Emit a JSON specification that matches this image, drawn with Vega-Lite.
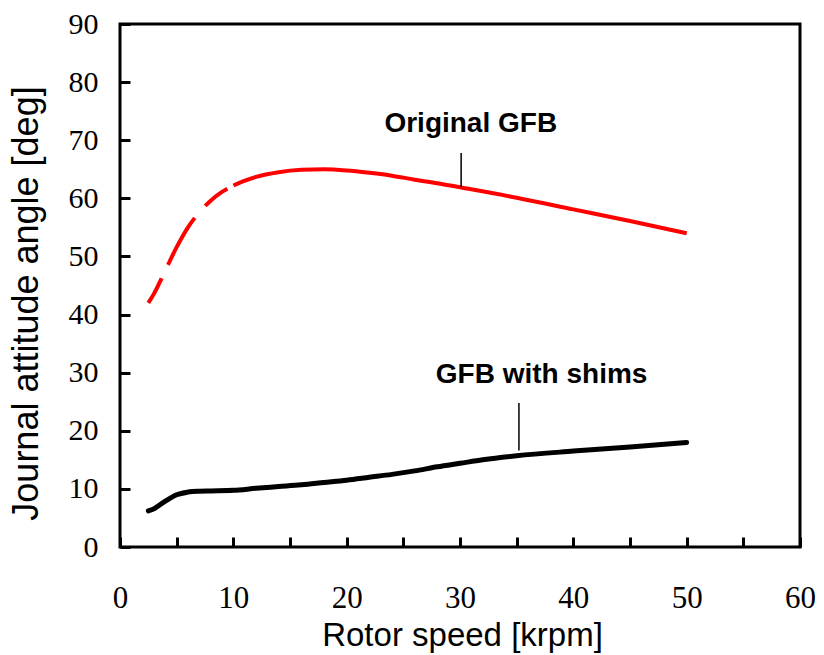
{
  "$schema": "https://vega.github.io/schema/vega-lite/v6.json",
  "width": 680,
  "height": 523,
  "autosize": {"type": "none"},
  "padding": {"left": 120, "top": 24, "right": 24, "bottom": 108},
  "background": "white",
  "config": {
    "view": {"stroke": "black", "strokeWidth": 3},
    "axis": {
      "domain": false,
      "grid": false,
      "tickColor": "black",
      "tickWidth": 3,
      "tickSize": -10,
      "labelFont": "Liberation Serif",
      "labelColor": "black",
      "titleFont": "Liberation Sans",
      "titleFontWeight": "normal",
      "titleColor": "black"
    }
  },
  "datasets": {
    "original": [
      {"speed": 2.5, "angle": 42},
      {"speed": 3, "angle": 43.6},
      {"speed": 4, "angle": 47.6},
      {"speed": 5, "angle": 51.6},
      {"speed": 6, "angle": 55},
      {"speed": 7, "angle": 57.6},
      {"speed": 8, "angle": 59.6},
      {"speed": 9, "angle": 61.1},
      {"speed": 10, "angle": 62.2},
      {"speed": 12, "angle": 63.7},
      {"speed": 14, "angle": 64.5},
      {"speed": 16, "angle": 64.9},
      {"speed": 18, "angle": 65},
      {"speed": 20, "angle": 64.8},
      {"speed": 22, "angle": 64.4},
      {"speed": 24, "angle": 63.9},
      {"speed": 26, "angle": 63.2},
      {"speed": 28, "angle": 62.6},
      {"speed": 30, "angle": 61.9},
      {"speed": 35, "angle": 60.1},
      {"speed": 40, "angle": 58.1},
      {"speed": 45, "angle": 56.1},
      {"speed": 50, "angle": 54}
    ],
    "shims": [
      {"speed": 2.5, "angle": 6.2},
      {"speed": 3, "angle": 6.6},
      {"speed": 4, "angle": 7.9},
      {"speed": 5, "angle": 9},
      {"speed": 6, "angle": 9.45},
      {"speed": 7, "angle": 9.6},
      {"speed": 8, "angle": 9.65},
      {"speed": 10, "angle": 9.75},
      {"speed": 12, "angle": 10.1},
      {"speed": 14, "angle": 10.4},
      {"speed": 16, "angle": 10.7},
      {"speed": 18, "angle": 11.1},
      {"speed": 20, "angle": 11.5},
      {"speed": 22, "angle": 12},
      {"speed": 24, "angle": 12.5},
      {"speed": 26, "angle": 13.1},
      {"speed": 28, "angle": 13.8},
      {"speed": 30, "angle": 14.4},
      {"speed": 32, "angle": 15},
      {"speed": 35, "angle": 15.7},
      {"speed": 40, "angle": 16.5},
      {"speed": 45, "angle": 17.2},
      {"speed": 50, "angle": 18}
    ],
    "labels": [
      {"speed": 30.95, "angle": 71.4, "text": "Original GFB"},
      {"speed": 37.2, "angle": 28.2, "text": "GFB with shims"}
    ],
    "leaders": [
      {"speed": 30.1, "y1": 61.9, "y2": 67.8},
      {"speed": 35.2, "y1": 16.6, "y2": 24.8}
    ]
  },
  "encoding": {
    "x": {
      "field": "speed",
      "type": "quantitative",
      "scale": {"domain": [0, 60], "nice": false},
      "axis": {
        "title": "Rotor speed [krpm]",
        "titleFontSize": 33,
        "titleBaseline": "alphabetic",
        "titleX": 342,
        "titleY": 98,
        "values": [0, 5, 10, 15, 20, 25, 30, 35, 40, 45, 50, 55, 60],
        "labelExpr": "datum.value % 10 === 0 ? datum.label : ''",
        "labelFontSize": 31,
        "labelBaseline": "alphabetic",
        "labelPadding": 70,
        "labelFlush": false
      }
    },
    "y": {
      "field": "angle",
      "type": "quantitative",
      "scale": {"domain": [0, 90], "nice": false},
      "axis": {
        "title": "Journal attitude angle [deg]",
        "titleFontSize": 36,
        "titleX": -75,
        "titleY": 279,
        "values": [0, 10, 20, 30, 40, 50, 60, 70, 80, 90],
        "labelFontSize": 30,
        "labelPadding": 32,
        "labelFlush": false
      }
    }
  },
  "layer": [
    {
      "data": {"name": "original"},
      "mark": {
        "type": "line",
        "color": "#ff0000",
        "strokeWidth": 4,
        "interpolate": "monotone",
        "strokeDash": [28, 15, 54, 16, 28, 7, 3000, 0]
      }
    },
    {
      "data": {"name": "shims"},
      "mark": {
        "type": "line",
        "color": "black",
        "strokeWidth": 5,
        "strokeCap": "round",
        "interpolate": "monotone"
      }
    },
    {
      "data": {"name": "leaders"},
      "mark": {"type": "rule", "color": "black", "strokeWidth": 1.5},
      "encoding": {
        "y": {"field": "y1", "type": "quantitative"},
        "y2": {"field": "y2"}
      }
    },
    {
      "data": {"name": "labels"},
      "mark": {
        "type": "text",
        "font": "Liberation Sans",
        "fontWeight": "bold",
        "fontSize": 28,
        "color": "black",
        "baseline": "alphabetic",
        "align": "center"
      },
      "encoding": {
        "text": {"field": "text"}
      }
    }
  ]
}
